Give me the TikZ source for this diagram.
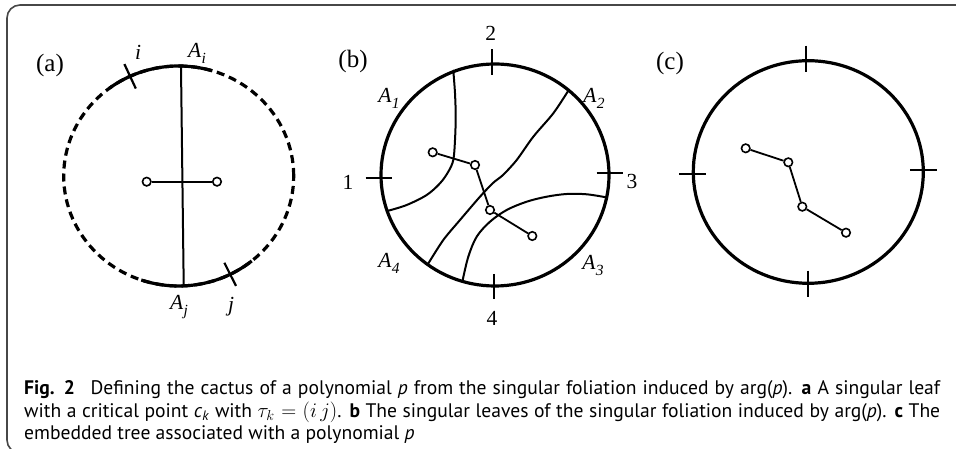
\documentclass[tikz,border=0pt]{standalone}
\usepackage{fontspec}
\setmainfont{Liberation Serif}
\newfontfamily\capfont{PT Sans}
\newcommand{\Asub}[1]{\textit{A}\kern0.3pt\raisebox{-0.28em}{\fontsize{15.5}{15.5}\selectfont\textit{#1}}}
\begin{document}
\begin{tikzpicture}[x=1pt,y=1pt,
  rim/.style={line width=3.2pt},
  dashrim/.style={line width=3.2pt, dash pattern=on 8pt off 5pt},
  leaf/.style={line width=2pt, line cap=round},
  tickmark/.style={line width=2.2pt},
  edge/.style={line width=1.8pt},
  vtx/.style={circle, draw, line width=1.6pt, fill=white, minimum size=8.5pt, inner sep=0pt},
  lbl/.style={font=\fontsize{21.5}{25}\selectfont, inner sep=0pt},
  plbl/.style={font=\fontsize{25}{30}\selectfont, inner sep=0pt},
  frame/.style={line width=1.6pt, draw=black!72, rounded corners=13pt},
  captext/.style={font=\capfont\fontsize{19.6}{22.5}\selectfont, text width=916pt, align=justify, inner sep=0pt, anchor=base west}
]
\useasboundingbox (0,0) rectangle (956,449);
\clip (0,0) rectangle (956,449);
\fill[white] (0,0) rectangle (956,449);
% frame
\draw[frame] (970,444) -- (7,444) -- (7,-4) -- (970,-4);

% ---------------- panel (a)
\coordinate (ca) at (178.7,273);
\draw[dashrim] (ca) ellipse [x radius=115, y radius=110];
\draw[rim] (ca) ++(73:115 and 110) arc[start angle=73, end angle=127, x radius=115, y radius=110];
\draw[rim] (ca) ++(251:115 and 110) arc[start angle=251, end angle=309.4, x radius=115, y radius=110];
\path (ca) ++(115:101.5 and 96.5) coordinate (ti1);
\path (ca) ++(115:128.5 and 123.5) coordinate (ti2);
\path (ca) ++(-63.4:102 and 97) coordinate (tj1);
\path (ca) ++(-63.4:128 and 123) coordinate (tj2);
\draw[tickmark] (ti1) -- (ti2);
\draw[tickmark] (tj1) -- (tj2);
\coordinate (aT) at (181,382);
\coordinate (aB) at (183.7,164);
\draw[leaf] (aT) -- (aB);
\node[vtx] (a1) at (146.7,267.3) {};
\node[vtx] (a2) at (217,267.3) {};
\draw[edge] (a1) -- (a2);
\node[plbl] (la) at (50,384) {(a)};
\node[lbl] (li) at (138,397) {\textit{i}};
\node[lbl] (lAi) at (197,396) {\Asub{i}};
\node[lbl] (lAj) at (179,142) {\Asub{j}};
\node[lbl] (lj) at (231,142) {\textit{j}};

% ---------------- panel (b)
\coordinate (cb) at (495,274);
\draw[rim] (cb) ellipse [x radius=114, y radius=111];
\draw[tickmark] (492.3,374) -- (492.3,400);
\draw[tickmark] (494,175) -- (494,150);
\draw[tickmark] (365.7,271) -- (392,271);
\draw[tickmark] (596.7,275.7) -- (622.7,275.7);
\draw[leaf] plot[smooth, tension=0.55] coordinates {(453.3,378.3) (455,355.7) (455.7,332.3) (455,309) (453.3,289) (448.3,277.3) (440,265.7) (426.7,254) (406.7,244) (388.3,238.3)};
\draw[leaf] plot[smooth, tension=0.5] coordinates {(568.3,358.3) (553.3,335.7) (533.3,312.3) (516.7,289) (503,274) (493,266) (480,252.3) (460,229) (443.3,209) (428,185)};
\draw[leaf] plot[smooth, tension=0.55] coordinates {(606,251.7) (586.7,254.7) (566.7,255) (546.7,252.3) (526.7,247.3) (506.7,239) (490,227.3) (476.7,212.3) (468.3,192.3) (462.5,168)};
\node[vtx] (b1) at (432.7,296.7) {};
\node[vtx] (b2) at (475,284) {};
\node[vtx] (b3) at (490,239) {};
\node[vtx] (b4) at (532.3,213) {};
\draw[edge] (b1) -- (b2);
\draw[edge] (b2) -- (b3);
\draw[edge] (b3) -- (b4);
\node[plbl] (lb) at (353,388) {(b)};
\node[lbl] (n2) at (490.7,416) {2};
\node[lbl] (n1) at (348,267) {1};
\node[lbl] (n3) at (632,267.3) {3};
\node[lbl] (n4) at (492,131) {4};
\node[lbl] (A1) at (389,351) {\Asub{1}};
\node[lbl] (A2) at (594,351) {\Asub{2}};
\node[lbl] (A3) at (593,184) {\Asub{3}};
\node[lbl] (A4) at (389,186) {\Asub{4}};

% ---------------- panel (c)
\coordinate (cc) at (808.3,277);
\draw[rim] (cc) ellipse [x radius=115, y radius=111.3];
\draw[tickmark] (805.7,403.3) -- (805.7,377.3);
\draw[tickmark] (807.7,178.3) -- (807.7,152.3);
\draw[tickmark] (679.3,274.7) -- (705.7,274.7);
\draw[tickmark] (910,279) -- (936.7,279);
\node[vtx] (c1) at (745.7,300.7) {};
\node[vtx] (c2) at (788.3,286.7) {};
\node[vtx] (c3) at (802.3,242.3) {};
\node[vtx] (c4) at (846,216.3) {};
\draw[edge] (c1) -- (c2);
\draw[edge] (c2) -- (c3);
\draw[edge] (c3) -- (c4);
\node[plbl] (lc) at (670,385.7) {(c)};

% ---------------- caption
\node[captext] (cap) at (24,54) {\textbf{Fig. 2}\hspace{0.8em}Defining the cactus of a polynomial \textit{p} from the singular foliation induced by arg(\textit{p}). \textbf{a} A singular leaf\linebreak
with a critical point \textit{c}\textsubscript{\textit{k}} with $\tau_k=(i\,j)$. \textbf{b} The singular leaves of the singular foliation induced by arg(\textit{p}). \textbf{c} The\linebreak
embedded tree associated with a polynomial \textit{p}};
\end{tikzpicture}
\end{document}
